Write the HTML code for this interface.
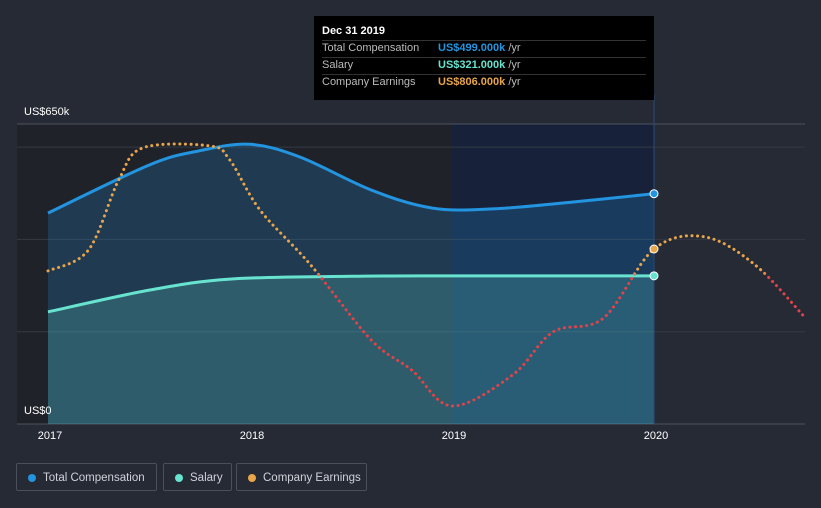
<!DOCTYPE html>
<html><head><meta charset="utf-8"><style>
body{margin:0;background:#262a35;font-family:"Liberation Sans",sans-serif;}
#wrap{position:relative;width:821px;height:508px;overflow:hidden;background:#262a35}
.lg{position:absolute;top:463px;height:28px;border:1px solid #4a4f5b;border-radius:2px;color:#cfd2d8;font-size:11.5px;line-height:28px;box-sizing:border-box;padding-left:26px}
.lg i{position:absolute;left:11px;top:10px;width:8px;height:8px;border-radius:50%}
#tip{position:absolute;left:314px;top:16px;width:340px;height:84px;background:#000;color:#fff;font-size:11px}
#tip div{position:absolute;left:8px}
</style></head><body>
<div id="wrap">
<svg id="svg" width="821" height="508" style="position:absolute;left:0;top:0">
<defs>
<linearGradient id="eg" gradientUnits="userSpaceOnUse" x1="0" y1="0" x2="0" y2="508">
<stop offset="0" stop-color="#e8a54a"/><stop offset="0.535" stop-color="#e8a54a"/><stop offset="0.545" stop-color="#e0444a"/><stop offset="1" stop-color="#e0444a"/></linearGradient>
</defs>
<rect x="17" y="124" width="435" height="300" fill="#1f2229"/>
<rect x="452" y="124" width="202" height="300" fill="#17223a"/>
<g id="grid"></g>
<g id="marks"></g>
</svg>
<div style="position:absolute;left:24px;top:106px;color:#fff;font-size:11px">US$650k</div>
<div style="position:absolute;left:24px;top:405px;color:#fff;font-size:11px">US$0</div>
<div id="xl"></div>
<div id="tip">
<div style="top:9px;font-weight:bold">Dec 31 2019</div>
<div style="top:26px;color:#bbb">Total Compensation</div>
<div style="top:26px;left:124px;color:#2394df;font-weight:bold">US$499.000k <span style="color:#bbb;font-weight:normal">/yr</span></div>
<div style="top:43px;color:#bbb">Salary</div>
<div style="top:43px;left:124px;color:#67e3d0;font-weight:bold">US$321.000k <span style="color:#bbb;font-weight:normal">/yr</span></div>
<div style="top:60px;color:#bbb">Company Earnings</div>
<div style="top:60px;left:124px;color:#e8a54a;font-weight:bold">US$806.000k <span style="color:#bbb;font-weight:normal">/yr</span></div>
<div style="top:24px;left:8px;width:324px;border-top:1px solid #333;height:0"></div>
<div style="top:41px;left:8px;width:324px;border-top:1px solid #333;height:0"></div>
<div style="top:58px;left:8px;width:324px;border-top:1px solid #333;height:0"></div>
</div>
<div class="lg" style="left:16px;width:141px"><i style="background:#2394df"></i>Total Compensation</div>
<div class="lg" style="left:163px;width:69px"><i style="background:#67e3d0"></i>Salary</div>
<div class="lg" style="left:236px;width:131px"><i style="background:#e8a54a"></i>Company Earnings</div>
</div>
<script>
const compYears=[2017,2017.5,2017.75,2018.0,2018.25,2018.6,2018.9,2019.2,2019.6,2020];
const compValues=[457,561,592,606,578,507,468,466,481,499];
const salYears=[2017,2017.5,2017.9,2018.5,2019,2020];
const salValues=[243,290,314,320,321,321];
const earnYears=[2017,2017.2,2017.35,2017.47,2017.8,2017.9,2018.05,2018.3,2018.6,2018.8,2019,2019.3,2019.5,2019.75,2020,2020.25,2020.5,2020.75];
const earnValues=[705,801,1124,1272,1281,1216,985,733,387,249,83,226,424,488,806,862,733,488];
const yTicks=[0,200,400,600,650];
const xTicks=[2017,2018,2019,2020];
const NS="http://www.w3.org/2000/svg";
const x=t=>48+(t-2017)*202;
const y=v=>424-v*300/650;
const ye=v=>424-v*175/806;
function smooth(pts){let d="M"+pts[0][0]+","+pts[0][1];for(let i=0;i<pts.length-1;i++){const p0=pts[i-1]||pts[i],p1=pts[i],p2=pts[i+1],p3=pts[i+2]||p2;d+=" C"+(p1[0]+(p2[0]-p0[0])/6)+","+(p1[1]+(p2[1]-p0[1])/6)+" "+(p2[0]-(p3[0]-p1[0])/6)+","+(p2[1]-(p3[1]-p1[1])/6)+" "+p2[0]+","+p2[1];}return d;}
function el(tag,attrs,parent){const e=document.createElementNS(NS,tag);for(const k in attrs)e.setAttribute(k,attrs[k]);parent.appendChild(e);return e;}
const grid=document.getElementById('grid'),marks=document.getElementById('marks');
yTicks.forEach(v=>{const l=el('line',{x1:17,x2:805,y1:y(v),y2:y(v),stroke:v===0||v===650?'#4e535e':'#343945','stroke-width':1},grid);

});
const xl=document.getElementById('xl');
xTicks.forEach(t=>{const d=document.createElement('div');d.textContent=t;d.style.cssText="position:absolute;top:430px;color:#fff;font-size:11px;width:40px;text-align:center;left:"+(x(t)-18)+"px";

xl.appendChild(d);});
const cp=compYears.map((t,i)=>[x(t),y(compValues[i])]);
const sp=salYears.map((t,i)=>[x(t),y(salValues[i])]);
const ep=earnYears.map((t,i)=>[x(t),ye(earnValues[i])]);
const ca=el('path',{d:smooth(cp)+" L"+x(2020)+",424 L"+x(2017)+",424Z",fill:'#2394df','fill-opacity':0.22},marks);


const sa=el('path',{d:smooth(sp)+" L"+x(2020)+",424 L"+x(2017)+",424Z",fill:'#67e3d0','fill-opacity':0.2},marks);


const vl=el('line',{x1:x(2020),x2:x(2020),y1:95,y2:424,stroke:'#2a4a7a','stroke-width':1},marks);


const cl=el('path',{d:smooth(cp),fill:'none',stroke:'#2394df','stroke-width':3},marks);


const sl=el('path',{d:smooth(sp),fill:'none',stroke:'#67e3d0','stroke-width':3},marks);


const eline=el('path',{d:smooth(ep),fill:'none',stroke:'url(#eg)','stroke-width':3,'stroke-dasharray':'0.1 5.5','stroke-linecap':'round'},marks);


const d1=el('circle',{cx:x(2020),cy:y(compValues[compValues.length-1]),r:4,fill:'#2394df',stroke:'#fff','stroke-width':1},marks);


const d2=el('circle',{cx:x(2020),cy:y(salValues[salValues.length-1]),r:4,fill:'#67e3d0',stroke:'#fff','stroke-width':1},marks);


const d3=el('circle',{cx:x(2020),cy:ye(earnValues[14]),r:4,fill:'#e8a54a',stroke:'#fff','stroke-width':1},marks);


</script>
</body></html>
